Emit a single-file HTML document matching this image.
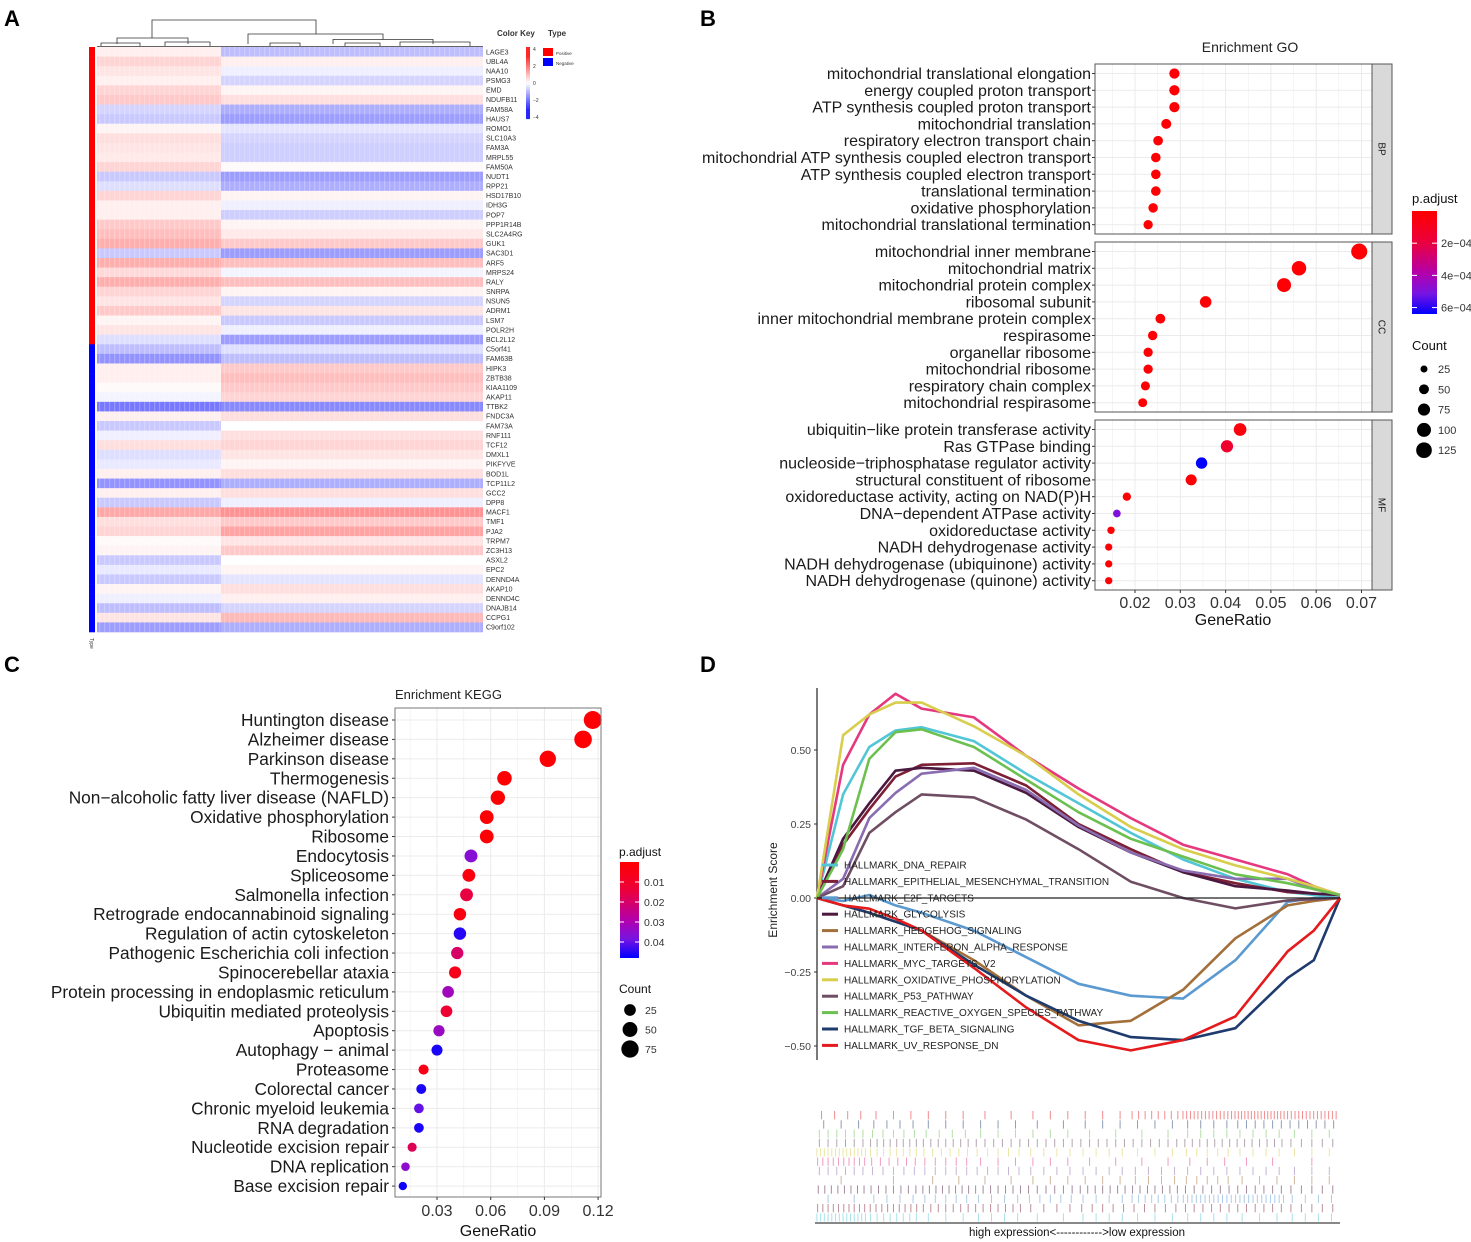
<!DOCTYPE html>
<html><head><meta charset="utf-8">
<style>
html,body{margin:0;padding:0;background:#fff;}
svg{display:block;font-family:"Liberation Sans",Arial,sans-serif;}
</style></head>
<body>
<svg id="fig" width="1471" height="1242" viewBox="0 0 1471 1242" xmlns="http://www.w3.org/2000/svg">
<g font-weight="bold" font-size="22" fill="#000">
<text x="4" y="26">A</text>
<text x="700" y="26">B</text>
<text x="4" y="672">C</text>
<text x="700" y="672">D</text>
</g>
<g id="pa"></g>
<g id="pb"></g>
<g id="pc"></g>
<g id="pd"></g>
</svg>
<script>
// ---------- Heatmap data ----------
const genes = ["LAGE3","UBL4A","NAA10","PSMG3","EMD","NDUFB11","FAM58A","HAUS7","ROMO1","SLC10A3","FAM3A","MRPL55","FAM50A","NUDT1","RPP21","HSD17B10","IDH3G","POP7","PPP1R14B","SLC2A4RG","GUK1","SAC3D1","ARF5","MRPS24","RALY","SNRPA","NSUN5","ADRM1","LSM7","POLR2H","BCL2L12","C5orf41","FAM63B","HIPK3","ZBTB38","KIAA1109","AKAP11","TTBK2","FNDC3A","FAM73A","RNF111","TCF12","DMXL1","PIKFYVE","BOD1L","TCP11L2","GCC2","DPP8","MACF1","TMF1","PJA2","TRPM7","ZC3H13","ASXL2","EPC2","DENND4A","AKAP10","DENND4C","DNAJB14","CCPG1","C9orf102"];
const geneType = [1,1,1,1,1,1,1,1,1,1,1,1,1,1,1,1,1,1,1,1,1,1,1,1,1,1,1,1,1,1,1,0,0,0,0,0,0,0,0,0,0,0,0,0,0,0,0,0,0,0,0,0,0,0,0,0,0,0,0,0,0];
const leftGroup = [0.3,0.8,0.5,0.3,0.8,1.0,-0.8,-1.0,0.2,0.6,0.5,0.4,0.8,-1.0,-0.6,0.8,0.3,0.3,1.0,1.2,1.5,-1.0,1.5,0.7,1.5,0.8,0.5,1.0,0.2,0.5,-0.6,-1.2,-2.0,0.3,0.3,0.1,-0.2,-2.5,0.3,-1.0,-0.3,0.6,-0.6,-0.4,0.3,-2.0,0.3,-1.0,1.6,0.6,0.8,0.1,0.2,-1.0,-0.4,-1.0,0.2,-0.3,-1.2,0.5,-1.8];
const rightGroup = [-1.2,0.3,-0.3,-0.8,0.2,0.6,-1.5,-1.8,-0.5,-0.8,-0.9,-0.9,0.1,-1.8,-1.5,0.2,-0.3,-0.9,0.2,0.4,1.0,-1.8,1.2,-0.2,1.2,0.2,-0.8,0.5,-1.0,-0.3,-1.8,-0.6,-1.2,1.0,1.2,1.0,0.8,-2.2,0.6,0.0,0.6,0.8,0.5,0.2,0.6,-1.5,0.6,-0.3,2.0,1.0,1.7,0.5,1.0,0.0,0.2,-0.5,0.6,0.3,-0.8,1.3,-1.5];
const keyTicks = [4,2,0,-2,-4];

// ---------- GO data ----------
const goTerms = ["mitochondrial translational elongation","energy coupled proton transport","ATP synthesis coupled proton transport","mitochondrial translation","respiratory electron transport chain","mitochondrial ATP synthesis coupled electron transport","ATP synthesis coupled electron transport","translational termination","oxidative phosphorylation","mitochondrial translational termination",
"mitochondrial inner membrane","mitochondrial matrix","mitochondrial protein complex","ribosomal subunit","inner mitochondrial membrane protein complex","respirasome","organellar ribosome","mitochondrial ribosome","respiratory chain complex","mitochondrial respirasome",
"ubiquitin\u2212like protein transferase activity","Ras GTPase binding","nucleoside\u2212triphosphatase regulator activity","structural constituent of ribosome","oxidoreductase activity, acting on NAD(P)H","DNA\u2212dependent ATPase activity","oxidoreductase activity","NADH dehydrogenase activity","NADH dehydrogenase (ubiquinone) activity","NADH dehydrogenase (quinone) activity"];
const goOntology = ["BP","BP","BP","BP","BP","BP","BP","BP","BP","BP","CC","CC","CC","CC","CC","CC","CC","CC","CC","CC","MF","MF","MF","MF","MF","MF","MF","MF","MF","MF"];
const goRatio = [0.0287,0.0287,0.0287,0.0269,0.0251,0.0246,0.0246,0.0246,0.0240,0.0229,0.0695,0.0562,0.0529,0.0356,0.0256,0.0239,0.0229,0.0229,0.0223,0.0217,0.0432,0.0403,0.0347,0.0324,0.0182,0.0160,0.0147,0.0142,0.0142,0.0142];
const goCount = [54,54,54,51,48,47,47,47,46,44,132,107,100,68,49,45,44,44,42,41,82,77,66,62,35,30,28,27,27,27];
const goPadj = [0.00001,0.00001,0.00001,0.00001,0.00001,0.00001,0.00001,0.00001,0.00001,0.00001,0.00001,0.00001,0.00001,0.00001,0.00001,0.00001,0.00001,0.00001,0.00001,0.00001,0.00004,0.00014,0.00064,0.00001,0.00001,0.00050,0.00001,0.00001,0.00001,0.00001];
const goXTicks = [0.02,0.03,0.04,0.05,0.06,0.07];
const goPadjTicks = [0.0002,0.0004,0.0006];
const goPadjTickLabels = ["2e\u221204","4e\u221204","6e\u221204"];
const goCountLegend = [25,50,75,100,125];

// ---------- KEGG data ----------
const keggTerms = ["Huntington disease","Alzheimer disease","Parkinson disease","Thermogenesis","Non\u2212alcoholic fatty liver disease (NAFLD)","Oxidative phosphorylation","Ribosome","Endocytosis","Spliceosome","Salmonella infection","Retrograde endocannabinoid signaling","Regulation of actin cytoskeleton","Pathogenic Escherichia coli infection","Spinocerebellar ataxia","Protein processing in endoplasmic reticulum","Ubiquitin mediated proteolysis","Apoptosis","Autophagy \u2212 animal","Proteasome","Colorectal cancer","Chronic myeloid leukemia","RNA degradation","Nucleotide excision repair","DNA replication","Base excision repair"];
const keggRatio = [0.117,0.1116,0.0919,0.0677,0.064,0.0578,0.0578,0.049,0.0478,0.0465,0.0428,0.0428,0.0413,0.0401,0.0362,0.0353,0.0311,0.030,0.0225,0.0212,0.0199,0.0199,0.0161,0.0124,0.0109];
const keggCount = [82,78,64,47,45,40,40,34,33,33,30,30,29,28,25,25,22,21,16,15,14,14,11,9,8];
const keggPadj = [0.001,0.001,0.001,0.001,0.001,0.001,0.001,0.036,0.003,0.015,0.004,0.045,0.02,0.006,0.032,0.012,0.033,0.046,0.005,0.046,0.04,0.046,0.018,0.035,0.047];
const keggXTicks = [0.03,0.06,0.09,0.12];
const keggPadjTicks = [0.01,0.02,0.03,0.04];
const keggCountLegend = [25,50,75];

// ---------- GSEA data ----------
const gseaNames = ["HALLMARK_DNA_REPAIR","HALLMARK_EPITHELIAL_MESENCHYMAL_TRANSITION","HALLMARK_E2F_TARGETS","HALLMARK_GLYCOLYSIS","HALLMARK_HEDGEHOG_SIGNALING","HALLMARK_INTERFERON_ALPHA_RESPONSE","HALLMARK_MYC_TARGETS_V2","HALLMARK_OXIDATIVE_PHOSPHORYLATION","HALLMARK_P53_PATHWAY","HALLMARK_REACTIVE_OXYGEN_SPECIES_PATHWAY","HALLMARK_TGF_BETA_SIGNALING","HALLMARK_UV_RESPONSE_DN"];
const gseaColors = ["#52c6d6","#7d1f35","#5b9ad0","#4b1840","#a3703a","#8a6cb0","#e5387f","#d8cd4c","#6f4d63","#6cc04f","#1f3b6e","#e41a1c"];
const esX = [0,0.05,0.1,0.15,0.2,0.3,0.4,0.5,0.6,0.7,0.8,0.9,0.95,1];
const esDNA = [0,0.35,0.51,0.566,0.577,0.53,0.42,0.32,0.22,0.13,0.065,0.02,0.01,0];
const esEMT = [0,0.18,0.30,0.41,0.45,0.455,0.38,0.25,0.165,0.087,0.05,0.02,0.015,0.01];
const esE2F = [0,-0.01,0.01,-0.025,-0.05,-0.11,-0.20,-0.29,-0.33,-0.34,-0.21,-0.013,0,0];
const esGLY = [0,0.20,0.32,0.43,0.44,0.43,0.355,0.24,0.154,0.087,0.04,0.025,0.015,0.01];
const esHH = [0,-0.025,-0.05,-0.08,-0.11,-0.21,-0.33,-0.43,-0.415,-0.31,-0.136,-0.025,-0.01,0];
const esIFN = [0,0.065,0.27,0.355,0.42,0.44,0.365,0.245,0.154,0.093,0.065,0.065,0.03,0.01];
const esMYC = [0,0.45,0.62,0.69,0.64,0.61,0.48,0.37,0.27,0.18,0.13,0.08,0.04,0.01];
const esOX = [0,0.55,0.62,0.66,0.66,0.58,0.48,0.35,0.24,0.165,0.11,0.065,0.04,0.01];
const esP53 = [0,0.04,0.22,0.29,0.35,0.34,0.265,0.165,0.055,0.0,-0.035,-0.008,-0.004,0];
const esROS = [0,0.165,0.47,0.56,0.57,0.51,0.40,0.29,0.20,0.14,0.08,0.05,0.03,0.01];
const esTGF = [0,-0.025,-0.05,-0.08,-0.11,-0.225,-0.33,-0.415,-0.47,-0.48,-0.44,-0.27,-0.21,0];
const esUV = [0,-0.025,-0.036,-0.07,-0.11,-0.236,-0.37,-0.48,-0.515,-0.48,-0.40,-0.18,-0.11,0];
const gseaYTicks = [0.5,0.25,0,-0.25,-0.5];
const gseaYTickLabels = ["0.50","0.25","0.00","\u22120.25","\u22120.50"];
const barcodeOrder = [11,10,9,8,7,6,5,4,3,2,1,0];
const hitDensity = [[4,3,3,2,3,3,8,14,16,14],[3,4,3,3,2,3,3,4,6,6],[6,5,4,3,3,2,2,4,4,3],[6,8,7,6,6,6,6,7,7,5],[14,8,6,5,4,4,3,5,4,3],[10,6,5,3,3,2,2,3,2,1],[6,5,5,5,4,4,4,4,4,3],[1,1,2,2,3,3,4,5,3,3],[8,7,8,7,6,7,7,6,6,5],[2,4,5,4,5,4,8,12,12,4],[10,9,7,7,4,5,5,6,6,5],[14,8,3,4,2,4,3,4,3,4]];

const NS = "http://www.w3.org/2000/svg";
function mk(parent, tag, attrs, txt){
  const e = document.createElementNS(NS, tag);
  for (const k in attrs) e.setAttribute(k, attrs[k]);
  if (txt !== undefined) e.textContent = txt;
  parent.appendChild(e);
  return e;
}
function heatColor(v){
  const t = Math.max(-1, Math.min(1, v/4));
  if (t >= 0){ const cc = Math.max(0,Math.round(255*(1-t*0.85))); return `rgb(255,${cc},${cc})`; }
  const c = Math.max(0,Math.round(255*(1+t*0.85))); return `rgb(${c},${c},255)`;
}
const padjStops = [[0,[255,0,0]],[0.3,[235,0,60]],[0.6,[180,0,170]],[0.8,[120,20,225]],[1,[0,0,255]]];
function padjColor(t){
  t = Math.max(0, Math.min(1, t));
  for (let i=1;i<padjStops.length;i++){
    if (t <= padjStops[i][0]){
      const a = padjStops[i-1], b = padjStops[i];
      const f = (t-a[0])/(b[0]-a[0]);
      const c = a[1].map((v,j)=>Math.round(v+(b[1][j]-v)*f));
      return `rgb(${c[0]},${c[1]},${c[2]})`;
    }
  }
  return "rgb(0,0,255)";
}
function addGradient(id, svg){
  let defs = svg.querySelector("defs");
  if (!defs) defs = mk(svg, "defs", {});
  const g = mk(defs, "linearGradient", {id:id, x1:0, y1:0, x2:0, y2:1});
  for (let i=0;i<=10;i++) mk(g, "stop", {offset: i/10, "stop-color": padjColor(i/10)});
}
const svg = document.getElementById("fig");

// =============== Panel A: heatmap ===============
(function(){
  const g = document.getElementById("pa");
  const x0 = 97, x1 = 483, xs = 221, y0 = 47, y1 = 632;
  const rh = (y1 - y0) / genes.length;
  const hm = mk(g, "g", {});
  
  
  genes.forEach((gn, i) => {
    const y = y0 + i*rh;
    const a = mk(hm, "rect", {x:x0, y:y, width:xs-x0, height:rh+0.3, fill:heatColor(leftGroup[i])});
    
    
    const b = mk(hm, "rect", {x:xs, y:y, width:x1-xs, height:rh+0.3, fill:heatColor(rightGroup[i])});
    
    
    const s = mk(g, "rect", {x:89, y:y, width:6, height:rh+0.3, fill: geneType[i] ? "#ff0000" : "#0000ff"});
    
    
    const t = mk(g, "text", {x:486, y:y+rh/2+2.5, "font-size":7, fill:"#333"}, gn);
    
    
  });
  const tex = mk(g, "g", {opacity:0.22});
  
  
  for (let x = x0+2; x < x1; x += 5) mk(tex, "rect", {x:x, y:y0, width:1.2, height:y1-y0, fill:"#fff"});
  const dg = mk(g, "g", {stroke:"#333", "stroke-width":0.8, fill:"none"});
  
  
  mk(dg, "path", {d:"M152 38 V20 H316 V34 M117 44 V38 H188 V44 M248 44 V34 H383 V39.5 M333 44 V39.5 H433 V44 M101 46 V43 H140 V46 M165 46 V42 H210 V46 M270 46 V43 H300 V46 M345 46 V43 H380 V46 M400 46 V42 H470 V46 M97 46.5 H483"});
  mk(g, "text", {x:90, y:638, "font-size":5, transform:"rotate(90 90 638)", fill:"#333"}, "Type");
  const ck = mk(g, "g", {});
  
  
  mk(ck, "text", {x:497, y:36, "font-size":8, "font-weight":"bold", fill:"#333"}, "Color Key");
  for (let i=0;i<36;i++){
    const v = 4 - i*8/35;
    mk(ck, "rect", {x:526, y:47+i*2, width:4, height:2.1, fill:heatColor(v*1.3)});
  }
  keyTicks.forEach(v => {
    mk(ck, "text", {x:533, y:49 + (4-v)/8*68 + 2, "font-size":5, fill:"#333"}, v<0 ? "\u2212"+(-v) : String(v));
  });
  const tl = mk(g, "g", {});
  
  
  mk(tl, "text", {x:548, y:36, "font-size":8, "font-weight":"bold", fill:"#333"}, "Type");
  mk(tl, "rect", {x:543, y:48, width:10, height:8, fill:"#ff0000"});
  mk(tl, "text", {x:556, y:55, "font-size":4.5, fill:"#333"}, "Positive");
  mk(tl, "rect", {x:543, y:58, width:10, height:8, fill:"#0000ff"});
  mk(tl, "text", {x:556, y:65, "font-size":4.5, fill:"#333"}, "Negative");
})();

// =============== Panel B: GO ===============
(function(){
  const g = document.getElementById("pb");
  addGradient("gradGO", svg);
  const L = 1095, R = 1372;
  const xOf = v => 1135 + (v-0.02)*4530;
  const facets = ["BP","CC","MF"];
  const tops = [64, 242, 420], H = 170;
  const padMax = 0.00064;
  mk(g, "text", {x:1250, y:52, "font-size":14, "text-anchor":"middle", fill:"#222"}, "Enrichment GO");
  facets.forEach((f, fi) => {
    const top = tops[fi];
    const pg = mk(g, "g", {});
    
    
    mk(pg, "rect", {x:L, y:top, width:R-L, height:H, fill:"#fff"});
    for (let v=0.015; v<0.0751; v+=0.005){
      const major = Math.abs(Math.round(v*100)-v*100) < 1e-6;
      const x = xOf(v);
      if (x > L && x < R) mk(pg, "line", {x1:x, x2:x, y1:top, y2:top+H, stroke:"#ebebeb", "stroke-width": major?1:0.5});
    }
    let k = 0;
    goTerms.forEach((t, i) => {
      if (goOntology[i] !== f) return;
      const y = top + 9.5 + k*16.8; k++;
      mk(pg, "line", {x1:L, x2:R, y1:y, y2:y, stroke:"#ebebeb"});
      mk(pg, "line", {x1:L-3, x2:L, y1:y, y2:y, stroke:"#333"});
      const lb = mk(pg, "text", {x:L-4, y:y+5.5, "font-size":16, "text-anchor":"end", fill:"#1a1a1a"}, t);
      
      
    });
    k = 0;
    goTerms.forEach((t, i) => {
      if (goOntology[i] !== f) return;
      const y = top + 9.5 + k*16.8; k++;
      const c = mk(pg, "circle", {cx:xOf(goRatio[i]), cy:y, r:0.7*Math.sqrt(goCount[i]), fill:padjColor(goPadj[i]/padMax)});
      
      
    });
    mk(pg, "rect", {x:L, y:top, width:R-L, height:H, fill:"none", stroke:"#555", "stroke-width":1});
    mk(pg, "rect", {x:R, y:top, width:20, height:H, fill:"#d9d9d9", stroke:"#555", "stroke-width":1});
    const cy = top + H/2;
    const st = mk(pg, "text", {x:1382, y:cy, "font-size":10, "text-anchor":"middle", transform:`rotate(90 1382 ${cy})`, dy:3.5, fill:"#1a1a1a"}, f);
    
    
  });
  goXTicks.forEach(v => {
    const x = xOf(v);
    mk(g, "line", {x1:x, x2:x, y1:590, y2:593, stroke:"#333"});
    mk(g, "text", {x:x, y:608, "font-size":16, "text-anchor":"middle", fill:"#333"}, v.toFixed(2));
  });
  mk(g, "text", {x:1233, y:625, "font-size":16, "text-anchor":"middle", fill:"#111"}, "GeneRatio");
  const lg = mk(g, "g", {});
  
  
  mk(lg, "text", {x:1412, y:203, "font-size":13, fill:"#111"}, "p.adjust");
  mk(lg, "rect", {x:1412, y:211, width:25, height:103, fill:"url(#gradGO)"});
  goPadjTicks.forEach((v, i) => {
    const y = 211 + v/padMax*103;
    mk(lg, "line", {x1:1412, x2:1417, y1:y, y2:y, stroke:"#fff"});
    mk(lg, "line", {x1:1432, x2:1437, y1:y, y2:y, stroke:"#fff"});
    mk(lg, "text", {x:1441, y:y+4, "font-size":11, fill:"#333"}, goPadjTickLabels[i]);
  });
  const cl = mk(g, "g", {});
  
  
  mk(cl, "text", {x:1412, y:350, "font-size":13, fill:"#111"}, "Count");
  goCountLegend.forEach((c, i) => {
    const y = 369 + i*20.3;
    mk(cl, "circle", {cx:1424, cy:y, r:0.7*Math.sqrt(c), fill:"#000"});
    mk(cl, "text", {x:1438, y:y+4, "font-size":11, fill:"#333"}, String(c));
  });
})();

// =============== Panel C: KEGG ===============
(function(){
  const g = document.getElementById("pc");
  addGradient("gradKEGG", svg);
  const L = 395, R = 601, T = 708, B = 1197;
  const xOf = v => 437 + (v-0.03)*1790;
  const padMax = 0.048;
  const rOf = c => 2 + 0.77*Math.sqrt(c);
  mk(g, "text", {x:395, y:699, "font-size":13, fill:"#222"}, "Enrichment KEGG");
  mk(g, "rect", {x:L, y:T, width:R-L, height:B-T, fill:"#fff"});
  for (let i=0;i<9;i++){
    const v = 0.015 + i*0.015;
    const x = xOf(v);
    if (x > L && x < R) mk(g, "line", {x1:x, x2:x, y1:T, y2:B, stroke:"#ebebeb", "stroke-width": i%2 ? 1 : 0.5});
  }
  keggTerms.forEach((t, i) => {
    const y = 720 + i*19.42;
    mk(g, "line", {x1:L, x2:R, y1:y, y2:y, stroke:"#ebebeb"});
    mk(g, "line", {x1:L-3, x2:L, y1:y, y2:y, stroke:"#333"});
    const lb = mk(g, "text", {x:L-6, y:y+6, "font-size":17.3, "text-anchor":"end", fill:"#1a1a1a"}, t);
    
    
  });
  keggTerms.forEach((t, i) => {
    const y = 720 + i*19.42;
    const c = mk(g, "circle", {cx:xOf(keggRatio[i]), cy:y, r:rOf(keggCount[i]), fill:padjColor(keggPadj[i]/padMax)});
    
    
  });
  mk(g, "rect", {x:L, y:T, width:R-L, height:B-T, fill:"none", stroke:"#777"});
  keggXTicks.forEach(v => {
    const x = xOf(v);
    mk(g, "line", {x1:x, x2:x, y1:B, y2:B+3, stroke:"#333"});
    mk(g, "text", {x:x, y:1216, "font-size":16, "text-anchor":"middle", fill:"#333"}, v.toFixed(2));
  });
  mk(g, "text", {x:498, y:1236, "font-size":16, "text-anchor":"middle", fill:"#111"}, "GeneRatio");
  const lg = mk(g, "g", {});
  
  
  mk(lg, "text", {x:619, y:856, "font-size":12, fill:"#111"}, "p.adjust");
  mk(lg, "rect", {x:620, y:862, width:19, height:96, fill:"url(#gradKEGG)"});
  keggPadjTicks.forEach(v => {
    const y = 862 + v/padMax*96;
    mk(lg, "line", {x1:620, x2:624, y1:y, y2:y, stroke:"#fff"});
    mk(lg, "line", {x1:635, x2:639, y1:y, y2:y, stroke:"#fff"});
    mk(lg, "text", {x:644, y:y+4, "font-size":10.5, fill:"#333"}, v.toFixed(2));
  });
  const cl = mk(g, "g", {});
  
  
  mk(cl, "text", {x:619, y:993, "font-size":12, fill:"#111"}, "Count");
  keggCountLegend.forEach((c, i) => {
    const y = 1010 + i*19.5;
    mk(cl, "circle", {cx:630, cy:y, r:rOf(c), fill:"#000"});
    mk(cl, "text", {x:645, y:y+4, "font-size":10.5, fill:"#333"}, String(c));
  });
})();

// =============== Panel D: GSEA ===============
(function(){
  const g = document.getElementById("pd");
  const X0 = 817, X1 = 1340, Y0 = 898;
  const xOf = f => X0 + f*(X1-X0);
  const yOf = v => Y0 - v*296;
  const series = [esDNA, esEMT, esE2F, esGLY, esHH, esIFN, esMYC, esOX, esP53, esROS, esTGF, esUV];
  mk(g, "line", {x1:X0, x2:X0, y1:688, y2:1060, stroke:"#222", "stroke-width":1.2});
  gseaYTicks.forEach((v, i) => {
    const y = yOf(v);
    mk(g, "line", {x1:X0-3, x2:X0, y1:y, y2:y, stroke:"#333"});
    mk(g, "text", {x:X0-6, y:y+4, "font-size":10.5, "text-anchor":"end", fill:"#444"}, gseaYTickLabels[i]);
  });
  mk(g, "text", {x:777, y:890, "font-size":12, "text-anchor":"middle", transform:"rotate(-90 777 890)", fill:"#222"}, "Enrichment Score");
  series.forEach((s, k) => {
    const pts = s.map((v, i) => xOf(esX[i]).toFixed(1) + "," + yOf(v).toFixed(1)).join(" ");
    const pl = mk(g, "polyline", {points:pts, fill:"none", stroke:gseaColors[k], "stroke-width":2.6, "stroke-linejoin":"round"});
    
    
  });
  mk(g, "line", {x1:X0, x2:X1, y1:Y0, y2:Y0, stroke:"#222", "stroke-width":1.2});
  const lg = mk(g, "g", {});
  
  
  gseaNames.forEach((n, i) => {
    const y = 865 + i*16.4;
    mk(lg, "line", {x1:822, x2:838, y1:y, y2:y, stroke:gseaColors[i], "stroke-width":3});
    const t = mk(lg, "text", {x:844, y:y+3.5, "font-size":10, fill:"#222"}, n);
    
    
  });
  const bc = mk(g, "g", {});
  
  
  const bx0 = 815, bx1 = 1338, by0 = 1111, rowH = 9.3;
  barcodeOrder.forEach((si, r) => {
    const dens = hitDensity[r];
    const y = by0 + r*rowH;
    dens.forEach((n, d) => {
      const segW = (bx1-bx0)/10;
      for (let j=0;j<n;j++){
        const x = bx0 + d*segW + (j+0.5)*segW/n;
        const tk = mk(bc, "line", {x1:x, x2:x, y1:y, y2:y+rowH-1, stroke:gseaColors[si], "stroke-width":1, opacity:0.5});
        
        
      }
    });
  });
  mk(g, "line", {x1:815, x2:1340, y1:1223, y2:1223, stroke:"#111", "stroke-width":1});
  mk(g, "text", {x:1077, y:1236, "font-size":11.5, "text-anchor":"middle", fill:"#111"}, "high expression<------------>low expression");
})();
</script>
</body></html>
